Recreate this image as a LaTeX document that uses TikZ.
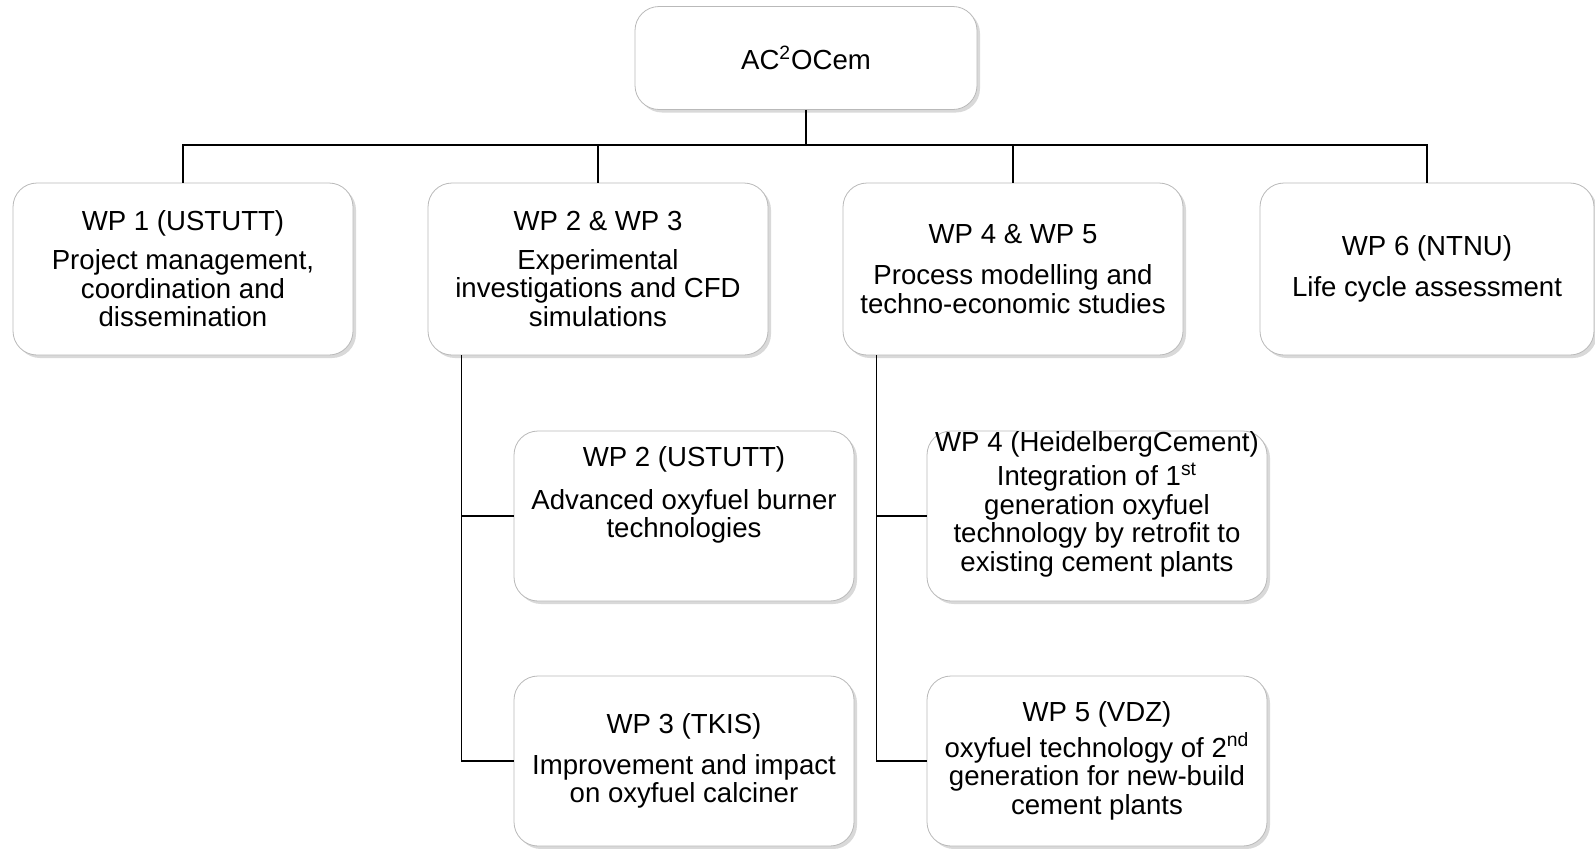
\documentclass[tikz,border=0pt]{standalone}
\usepackage{fontspec}
\setmainfont{Liberation Sans}
\usetikzlibrary{shadows}
\tikzset{
  wpbox/.style={draw=gray!55, fill=white, rounded corners=12pt, align=center,
    minimum width=170pt, minimum height=86pt, inner sep=2pt,
    font=\fontsize{13.8}{14.3}\selectfont,
    drop shadow={opacity=0.3, shadow xshift=1.5pt, shadow yshift=-1.5pt}},
  subbox/.style={wpbox, minimum height=85pt},
  link/.style={line width=0.8pt}
}
\begin{document}
\begin{tikzpicture}[x=0.5pt,y=-0.5pt]
  \useasboundingbox (0,0) rectangle (1595,848);
  % project
  \node[wpbox, minimum width=171pt, minimum height=51.5pt] (top) at (806,58) {AC\textsuperscript{2}OCem};
  % work packages
  \node[wpbox] (wp1) at (183,269) {WP 1 (USTUTT)\\[5pt] Project management,\\ coordination and\\ dissemination};
  \node[wpbox] (wp23) at (598,269) {WP 2 \& WP 3\\[5pt] Experimental\\ investigations and CFD\\ simulations};
  \node[wpbox] (wp45) at (1013,269) {WP 4 \& WP 5\\[6pt] Process modelling and\\ techno-economic studies};
  \node[wpbox, minimum width=167pt] (wp6) at (1427,269) {WP 6 (NTNU)\\[6pt] Life cycle assessment};
  % sub packages
  \node[subbox] (wp2) at (684,516) {WP 2 (USTUTT)\\[7pt] Advanced oxyfuel burner\\ technologies\\[9.5pt]\mbox{}};
  \node[subbox] (wp3) at (684,761) {WP 3 (TKIS)\\[6pt] Improvement and impact\\ on oxyfuel calciner};
  \node[subbox, inner ysep=0pt] (wp4) at (1097,516) {WP 4 (HeidelbergCement)\\[1.5pt] Integration of 1\textsuperscript{st}\\ generation oxyfuel\\ technology by retrofit to\\ existing cement plants\\[0pt]\mbox{}};
  \node[subbox] (wp5) at (1097,761) {WP 5 (VDZ)\\[1.5pt] oxyfuel technology of 2\textsuperscript{nd}\\ generation for new-build\\ cement plants};
  % connectors
  \coordinate (bus) at (806,145);
  \draw[link] (top) -- (bus);
  \foreach \n in {wp1,wp23,wp45,wp6}
    \draw[link] (bus) -| (\n.north);
  \foreach \p/\c in {wp23/wp2, wp23/wp3, wp45/wp4, wp45/wp5}
    \draw[link] (\p.south west) ++(34,0) |- (\c.west);
\end{tikzpicture}
\end{document}
